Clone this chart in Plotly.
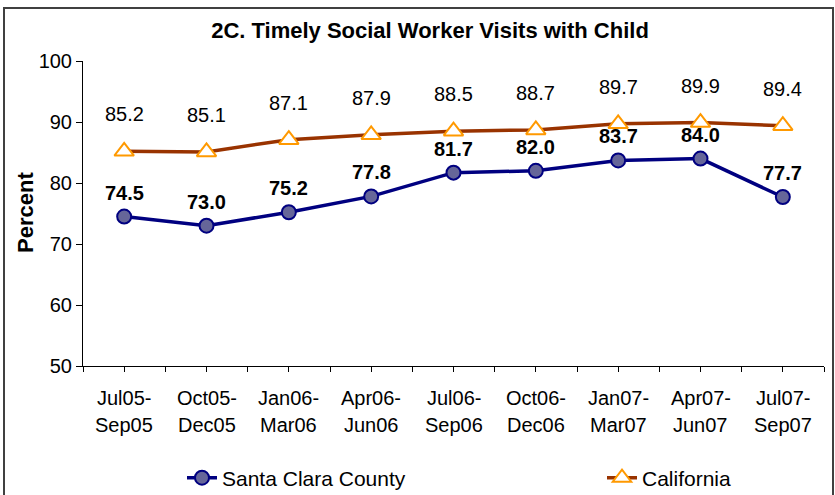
import plotly.graph_objects as go

categories_top = ["Jul05-", "Oct05-", "Jan06-", "Apr06-", "Jul06-", "Oct06-", "Jan07-", "Apr07-", "Jul07-"]
categories_bottom = ["Sep05", "Dec05", "Mar06", "Jun06", "Sep06", "Dec06", "Mar07", "Jun07", "Sep07"]
santa_clara = [74.5, 73.0, 75.2, 77.8, 81.7, 82.0, 83.7, 84.0, 77.7]
california = [85.2, 85.1, 87.1, 87.9, 88.5, 88.7, 89.7, 89.9, 89.4]
y_ticks = [50, 60, 70, 80, 90, 100]

FONT = "Arial, Liberation Sans, sans-serif"
W, H = 835, 495
L, R, T, B = 83, 11, 61, 129
PW, PH = W - L - R, H - T - B

def py(pix):
    return (H - B - pix) / PH

def px(pix):
    return (pix - L) / PW

xs = list(range(len(categories_top)))

fig = go.Figure()
fig.add_trace(go.Scatter(
    x=xs, y=santa_clara, name="Santa Clara County", mode="lines+markers",
    line=dict(color="#000080", width=3.5),
    marker=dict(symbol="circle", size=14, color="#666699", line=dict(color="#000080", width=2)),
    legend="legend",
))
fig.add_trace(go.Scatter(
    x=xs, y=california, name="California", mode="lines+markers",
    line=dict(color="#993300", width=3.5),
    marker=dict(symbol="triangle-up", size=17, color="white", line=dict(color="#FF9900", width=2)),
    legend="legend2",
))

annotations = []
for i, v in enumerate(santa_clara):
    annotations.append(dict(x=i, y=v, xref="x", yref="y", text=f"<b>{v:.1f}</b>", showarrow=False,
                            yshift=24, font=dict(family=FONT, size=20, color="black")))
for i, v in enumerate(california):
    annotations.append(dict(x=i, y=v, xref="x", yref="y", text=f"{v:.1f}", showarrow=False,
                            yshift=37, font=dict(family=FONT, size=20, color="black")))
for i, (a, b) in enumerate(zip(categories_top, categories_bottom)):
    annotations.append(dict(x=i, y=py(398), xref="x", yref="paper", text=a, showarrow=False,
                            yanchor="middle", font=dict(family=FONT, size=20, color="black")))
    annotations.append(dict(x=i, y=py(425), xref="x", yref="paper", text=b, showarrow=False,
                            yanchor="middle", font=dict(family=FONT, size=20, color="black")))
annotations.append(dict(x=px(25), y=py(213), xref="paper", yref="paper", text="<b>Percent</b>",
                        textangle=-90, showarrow=False, xanchor="center", yanchor="middle",
                        font=dict(family=FONT, size=22, color="black")))

legend_common = dict(orientation="h", xanchor="left", yanchor="middle", y=py(478),
                     font=dict(family=FONT, size=21, color="black"), bgcolor="rgba(0,0,0,0)")

fig.update_layout(
    width=W, height=H,
    margin=dict(l=L, r=R, t=T, b=B, autoexpand=False),
    paper_bgcolor="white", plot_bgcolor="white",
    font=dict(family=FONT, size=20, color="black"),
    title=dict(text="<b>2C. Timely Social Worker Visits with Child</b>", x=430 / W, xref="container",
               xanchor="center", y=1 - 30 / H, yref="container", yanchor="middle",
               font=dict(family=FONT, size=22, color="black")),
    xaxis=dict(range=[-0.5, len(xs) - 0.5], tickmode="array", tickvals=xs, showticklabels=False,
               ticks="outside", ticklen=5, tickcolor="black", showline=True, linecolor="black",
               linewidth=1, showgrid=False, zeroline=False, automargin=False,
               minor=dict(tickmode="array", tickvals=[i - 0.5 for i in range(len(xs) + 1)],
                          ticks="outside", ticklen=5, tickcolor="black", showgrid=False)),
    yaxis=dict(range=[50, 100], tickmode="array", tickvals=y_ticks, ticks="outside", ticklen=6,
               tickcolor="black", showline=True, linecolor="black", linewidth=1, showgrid=False,
               zeroline=False, automargin=False, tickfont=dict(family=FONT, size=20, color="black")),
    showlegend=True,
    legend=dict(x=px(182), **legend_common),
    legend2=dict(x=px(602), **legend_common),
    annotations=annotations,
    shapes=[dict(type="rect", xref="paper", yref="paper", x0=px(4), x1=px(833), y0=py(8), y1=py(520),
                 line=dict(color="#404040", width=2), fillcolor="rgba(0,0,0,0)", layer="above")],
)

fig.write_html("out.html", config={"displayModeBar": False},
               post_script="document.body.style.margin='0';document.body.style.overflow='hidden';")
